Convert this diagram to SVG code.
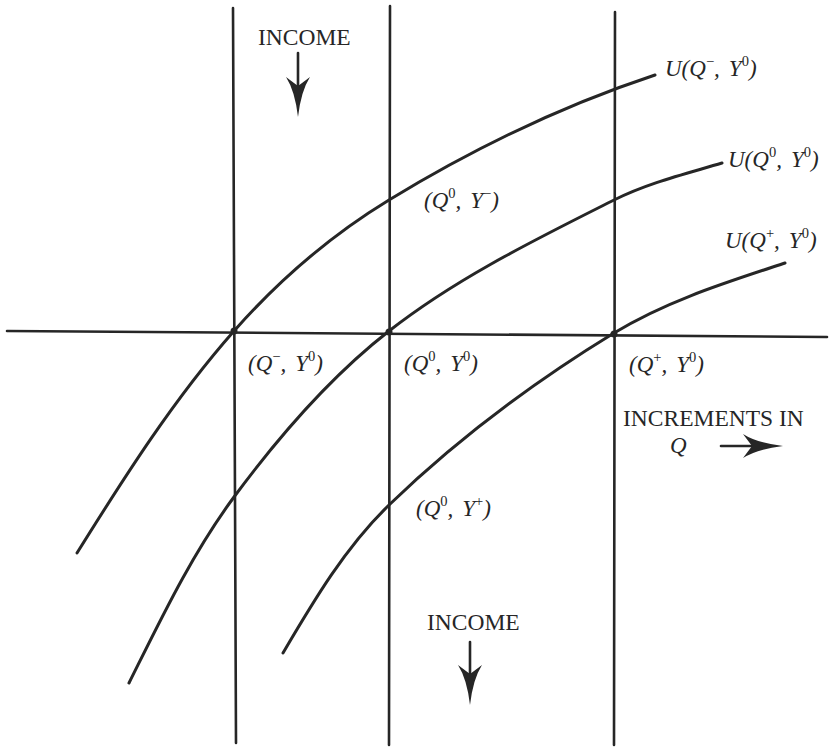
<svg xmlns="http://www.w3.org/2000/svg" width="835" height="748" viewBox="0 0 835 748">
<style>
.ln{stroke:#262626;stroke-width:2.6;fill:none;stroke-linecap:round}
.cv{stroke:#262626;stroke-width:3;fill:none;stroke-linecap:round}
.lab{font-family:"Liberation Serif",serif;font-style:italic;font-size:23px;fill:#262626}
.cap{font-family:"Liberation Serif",serif;font-size:23.5px;fill:#262626}
.sup{font-size:14.5px;font-style:normal}
.ah{fill:#262626}
</style>
<defs>
<path id="head" d="M0,0 Q-3,-26 -12,-40 L0,-31 L12,-40 Q3,-26 0,0 Z"/>
</defs>
<rect width="835" height="748" fill="#ffffff"/>
<g id="axes">
<line class="ln" x1="7" y1="331" x2="827" y2="337"/>
<line class="ln" x1="233" y1="8" x2="236" y2="743"/>
<line class="ln" x1="390" y1="6" x2="389" y2="745"/>
<line class="ln" x1="615" y1="12" x2="614" y2="745"/>
</g>
<g id="curves">
<path class="cv" d="M77,553 C125,476 174,399 234,331 C278.8,280.3 331.2,235.2 389,200 C472.7,149 561.9,105.7 655,75"/>
<path class="cv" d="M129,683 C160.8,619.3 191.7,554.2 234,497 C279,436.1 329.3,377.6 389,331 C457.4,277.5 536.5,239.1 614,200 C648,182.9 685.5,173.9 722,163"/>
<path class="cv" d="M283,653 C313.8,600.7 345.4,547.2 389,505 C456.9,439.4 533.5,382.2 614,333 C666.5,300.9 726.5,282.3 785,263"/>
<circle cx="234" cy="331" r="3.5" fill="#262626"/>
<circle cx="389" cy="332" r="3.5" fill="#262626"/>
<circle cx="614" cy="334" r="3.5" fill="#262626"/>
</g>
<g id="labels">
<text class="lab" x="665" y="76">U(Q<tspan class="sup" dy="-10">−</tspan><tspan dy="10">,</tspan><tspan dx="9">Y</tspan><tspan class="sup" dy="-10">0</tspan><tspan dy="10">)</tspan></text>
<text class="lab" x="728" y="167">U(Q<tspan class="sup" dy="-10">0</tspan><tspan dy="10">,</tspan><tspan dx="9">Y</tspan><tspan class="sup" dy="-10">0</tspan><tspan dy="10">)</tspan></text>
<text class="lab" x="725" y="248">U(Q<tspan class="sup" dy="-10">+</tspan><tspan dy="10">,</tspan><tspan dx="9">Y</tspan><tspan class="sup" dy="-10">0</tspan><tspan dy="10">)</tspan></text>
<text class="lab" x="424" y="208">(Q<tspan class="sup" dy="-10">0</tspan><tspan dy="10">,</tspan><tspan dx="9">Y</tspan><tspan class="sup" dy="-10">−</tspan><tspan dy="10">)</tspan></text>
<text class="lab" x="248" y="371">(Q<tspan class="sup" dy="-10">−</tspan><tspan dy="10">,</tspan><tspan dx="9">Y</tspan><tspan class="sup" dy="-10">0</tspan><tspan dy="10">)</tspan></text>
<text class="lab" x="404" y="371">(Q<tspan class="sup" dy="-10">0</tspan><tspan dy="10">,</tspan><tspan dx="9">Y</tspan><tspan class="sup" dy="-10">0</tspan><tspan dy="10">)</tspan></text>
<text class="lab" x="629" y="372">(Q<tspan class="sup" dy="-10">+</tspan><tspan dy="10">,</tspan><tspan dx="9">Y</tspan><tspan class="sup" dy="-10">0</tspan><tspan dy="10">)</tspan></text>
<text class="lab" x="416" y="516">(Q<tspan class="sup" dy="-10">0</tspan><tspan dy="10">,</tspan><tspan dx="9">Y</tspan><tspan class="sup" dy="-10">+</tspan><tspan dy="10">)</tspan></text>
<text class="cap" x="258" y="45">INCOME</text>
<text class="cap" x="427" y="630">INCOME</text>
<text class="cap" x="623" y="426">INCREMENTS IN</text>
<text class="lab" x="670" y="453">Q</text>
</g>
<g id="arrows">
<line class="ln" x1="298" y1="53" x2="298" y2="100"/>
<use href="#head" class="ah" transform="translate(298,117)"/>
<line class="ln" x1="470" y1="642" x2="470" y2="690"/>
<use href="#head" class="ah" transform="translate(470,705)"/>
<line class="ln" x1="721" y1="446" x2="765" y2="446"/>
<use href="#head" class="ah" transform="translate(783,446) rotate(-90)"/>
</g>
</svg>
